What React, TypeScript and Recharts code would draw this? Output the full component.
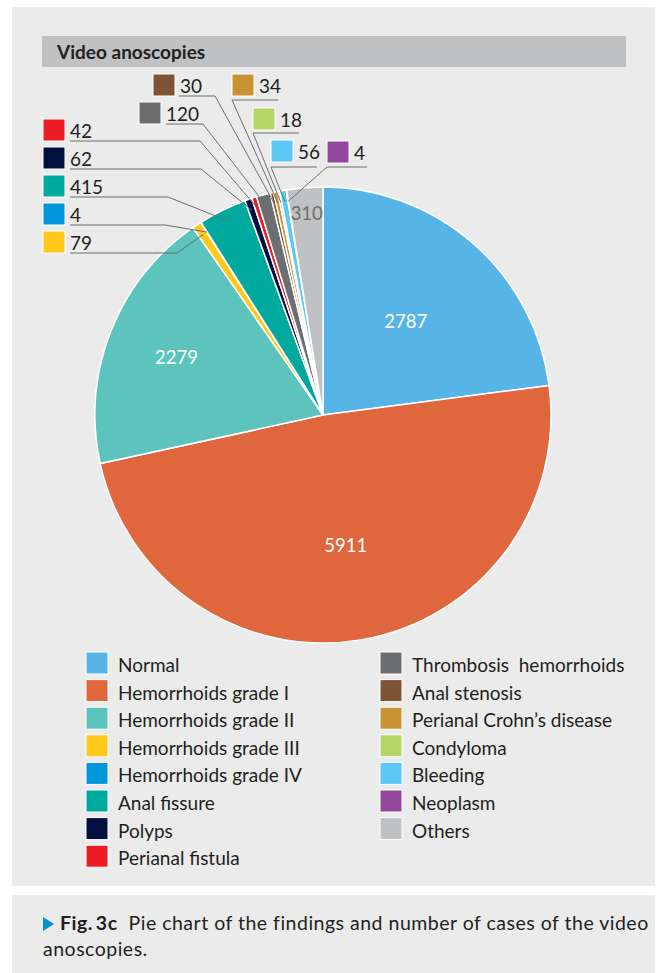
import React from "react";
import { Cell, Legend, Pie, PieChart } from "recharts";

const categories = [
  "Normal",
  "Hemorrhoids grade I",
  "Hemorrhoids grade II",
  "Hemorrhoids grade III",
  "Hemorrhoids grade IV",
  "Anal fissure",
  "Polyps",
  "Perianal fistula",
  "Thrombosis  hemorrhoids",
  "Anal stenosis",
  "Perianal Crohn\u2019s disease",
  "Condyloma",
  "Bleeding",
  "Neoplasm",
  "Others",
];

const cases = [2787, 5911, 2279, 79, 4, 415, 62, 42, 120, 30, 34, 18, 56, 4, 310];

const colors = [
  "#56b4e6",
  "#df663d",
  "#5dc4bd",
  "#ffc81a",
  "#0096da",
  "#00a99d",
  "#02103f",
  "#ed1c24",
  "#6d6e70",
  "#7f5435",
  "#c99333",
  "#b5d665",
  "#5bc8f5",
  "#92479a",
  "#c0c1c3",
];

const data = categories.map((name, i) => ({ name, value: cases[i] }));

const FONT = 'Lato, "Liberation Sans", sans-serif';
const TEXT = "#231f20";
const LEADER = "#6d6e70";

// where the number tags of the thin slices sit
type Callout = { bx: number; by: number; x1: number; x2: number; ly: number; attach: "left" | "right" };
const callouts: Record<number, Callout> = {
  3: { bx: 43, by: 231, x1: 70, x2: 177, ly: 253, attach: "right" },
  4: { bx: 43, by: 203, x1: 70, x2: 165, ly: 225, attach: "right" },
  5: { bx: 43, by: 175, x1: 70, x2: 168, ly: 197, attach: "right" },
  6: { bx: 43, by: 147, x1: 70, x2: 201, ly: 169, attach: "right" },
  7: { bx: 43, by: 119, x1: 70, x2: 200, ly: 141, attach: "right" },
  8: { bx: 139, by: 102, x1: 166, x2: 203, ly: 124, attach: "right" },
  9: { bx: 153, by: 74, x1: 179, x2: 215, ly: 96, attach: "right" },
  10: { bx: 232, by: 74, x1: 232, x2: 278, ly: 100, attach: "left" },
  11: { bx: 253, by: 108, x1: 253, x2: 299, ly: 133, attach: "left" },
  12: { bx: 271, by: 140, x1: 271, x2: 317, ly: 167, attach: "left" },
  13: { bx: 327, by: 141, x1: 327, x2: 367, ly: 167, attach: "left" },
};

const insideRadius: Record<number, number> = { 0: 0.55, 1: 0.58, 2: 0.69, 14: 0.89 };

const RAD = Math.PI / 180;

function renderLabel(props: any) {
  const { cx, cy, midAngle, outerRadius, index, value } = props;
  const inner = insideRadius[index];
  if (inner !== undefined) {
    const r = outerRadius * inner;
    const x = cx + r * Math.cos(-midAngle * RAD);
    const y = cy + r * Math.sin(-midAngle * RAD);
    return (
      <text
        x={x}
        y={y}
        textAnchor="middle"
        dominantBaseline="central"
        fill={index === 14 ? "#6d6e70" : "#fff"}
        fontSize={18.5}
        fontFamily={FONT}
      >
        {value}
      </text>
    );
  }
  const c = callouts[index];
  if (!c) return null;
  const r = outerRadius * 0.95;
  const px = cx + r * Math.cos(-midAngle * RAD);
  const py = cy + r * Math.sin(-midAngle * RAD);
  const ax = c.attach === "right" ? c.x2 : c.x1;
  return (
    <g>
      <line x1={c.x1} y1={c.ly} x2={c.x2} y2={c.ly} stroke={LEADER} strokeWidth={1} />
      <line x1={ax} y1={c.ly} x2={px} y2={py} stroke={LEADER} strokeWidth={1} />
      <rect x={c.bx} y={c.by} width={22} height={22} fill={colors[index]} stroke="#fff" strokeWidth={1} />
      <text x={c.bx + 27} y={c.by + 19} fill={TEXT} fontSize={19} fontFamily={FONT}>
        {value}
      </text>
    </g>
  );
}

function renderLegend() {
  const rows = categories.map((name, i) => {
    const col = i < 8 ? 0 : 1;
    const row = i < 8 ? i : i - 8;
    const bx = col === 0 ? 86 : 380;
    const by = 7 + row * 27.6;
    return (
      <g key={name}>
        <rect x={bx} y={by} width={22} height={22} fill={colors[i]} stroke="#fff" strokeWidth={1} />
        <text x={bx + 32} y={by + 20} fill={TEXT} fontSize={19} fontFamily={FONT} style={{ whiteSpace: "pre" }}>
          {name}
        </text>
      </g>
    );
  });
  return (
    <svg width={660} height={230} style={{ display: "block" }}>
      {rows}
    </svg>
  );
}

export default function App() {
  return (
    <div style={{ position: "absolute", left: 0, top: 0, width: 660, height: 973, background: "#fff", fontFamily: FONT, color: TEXT }}>
      <div style={{ position: "absolute", left: 12, top: 7, width: 643, height: 879, background: "#eaebea" }} />
      <div
        style={{
          position: "absolute",
          left: 42,
          top: 36,
          width: 584,
          height: 31,
          background: "#c0c1c3",
          display: "flex",
          alignItems: "center",
          paddingLeft: 15,
          boxSizing: "border-box",
          fontWeight: 700,
          fontSize: 19,
        }}
      >
        Video anoscopies
      </div>
      <div style={{ position: "absolute", left: 0, top: 0 }}>
        <PieChart width={660} height={880} margin={{ top: 0, right: 0, bottom: 0, left: 0 }}>
          <Pie
            data={data}
            dataKey="value"
            nameKey="name"
            cx={323}
            cy={415}
            outerRadius={228}
            startAngle={90}
            endAngle={-270}
            stroke="#fff"
            strokeWidth={1.5}
            label={renderLabel}
            labelLine={false}
            isAnimationActive={false}
          >
            {data.map((d, i) => (
              <Cell key={d.name} fill={colors[i]} />
            ))}
          </Pie>
          <Legend
            content={renderLegend}
            wrapperStyle={{ position: "absolute", left: 0, top: 645, width: 660, height: 230 }}
          />
        </PieChart>
      </div>
      <div style={{ position: "absolute", left: 12, top: 895, width: 643, height: 78, background: "#eaebea" }} />
      <div
        style={{
          position: "absolute",
          left: 43,
          top: 910,
          fontSize: 19.5,
          letterSpacing: 0.5,
          lineHeight: "26px",
          whiteSpace: "pre",
        }}
      >
        <span
          style={{
            display: "inline-block",
            width: 0,
            height: 0,
            borderTop: "7px solid transparent",
            borderBottom: "7px solid transparent",
            borderLeft: "11px solid #0093d5",
            marginRight: 6,
            verticalAlign: "-1px",
          }}
        />
        <b>Fig.{"\u2009"}3c</b>
        {"  Pie chart of the findings and number of cases of the video"}
        <br />
        anoscopies.
      </div>
    </div>
  );
}
